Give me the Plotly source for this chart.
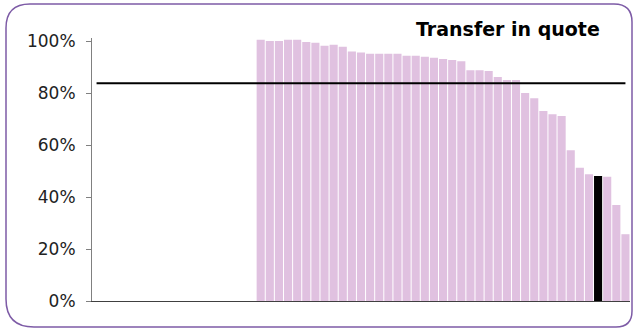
import plotly.graph_objects as go

# Share of transfers in quote, sorted descending (fraction of 1)
transfer_share = [
    1.005, 1.000, 1.000, 1.005, 1.005, 0.997, 0.994, 0.982, 0.986, 0.978,
    0.960, 0.956, 0.951, 0.951, 0.951, 0.951, 0.944, 0.944, 0.940, 0.936,
    0.931, 0.927, 0.923, 0.888, 0.888, 0.885, 0.862, 0.850, 0.850, 0.800,
    0.780, 0.731, 0.719, 0.712, 0.580, 0.513, 0.488, 0.481, 0.478, 0.369,
    0.257,
]
highlight_index = 37          # the highlighted entity
target_level = 0.838          # reference line
empty_slots = 18              # unfilled category slots before the first bar
y_ticks = [0, 0.2, 0.4, 0.6, 0.8, 1.0]
y_tick_labels = ["0%", "20%", "40%", "60%", "80%", "100%"]
title_text = "Transfer in quote"

W, H = 633, 329
ML, MR, MT, MB = 92, 3, 38, 28
PW, PH = W - ML - MR, H - MT - MB

n_slots = empty_slots + len(transfer_share)
bar_x = [empty_slots + i for i in range(len(transfer_share))]
bar_colors = ["#000000" if i == highlight_index else "#e0c1e0"
              for i in range(len(transfer_share))]

fig = go.Figure()
fig.add_trace(go.Bar(
    x=bar_x, y=transfer_share,
    marker=dict(color=bar_colors, line=dict(width=0)),
    hoverinfo="skip",
))
fig.add_trace(go.Scatter(
    x=list(range(n_slots)), y=[target_level] * n_slots,
    mode="lines", line=dict(color="#000000", width=2),
    hoverinfo="skip",
))


def px_to_paper(px, py):
    return (px - ML) / PW, (H - MB - py) / PH


def rounded_rect(x0, y0, x1, y1, r_tl, r_tr, r_br, r_bl):
    pts = []

    def p(x, y):
        a, b = px_to_paper(x, y)
        return f"{a:.5f},{b:.5f}"
    pts.append(f"M {p(x0 + r_tl, y0)}")
    pts.append(f"L {p(x1 - r_tr, y0)}")
    pts.append(f"Q {p(x1, y0)} {p(x1, y0 + r_tr)}")
    pts.append(f"L {p(x1, y1 - r_br)}")
    pts.append(f"Q {p(x1, y1)} {p(x1 - r_br, y1)}")
    pts.append(f"L {p(x0 + r_bl, y1)}")
    pts.append(f"Q {p(x0, y1)} {p(x0, y1 - r_bl)}")
    pts.append(f"L {p(x0, y0 + r_tl)}")
    pts.append(f"Q {p(x0, y0)} {p(x0 + r_tl, y0)}")
    pts.append("Z")
    return " ".join(pts)


fig.add_shape(
    type="path", xref="paper", yref="paper",
    path=rounded_rect(6, 4, 632, 327, 24, 18, 16, 28),
    line=dict(color="#7d5ba6", width=1.5),
    layer="above",
)

tx, ty = px_to_paper(602, 29)
fig.add_annotation(
    x=tx, y=ty, xref="paper", yref="paper",
    xanchor="right", yanchor="middle", showarrow=False,
    text=f"<b>{title_text}</b>",
    font=dict(family="DejaVu Sans", size=19, color="#000000"),
)

fig.update_layout(
    width=W, height=H,
    margin=dict(l=ML, r=MR, t=MT, b=MB, pad=0),
    paper_bgcolor="#ffffff", plot_bgcolor="#ffffff",
    showlegend=False, bargap=0.11,
    font=dict(family="DejaVu Sans", size=17, color="#222222"),
)
fig.update_xaxes(
    range=[-0.5, n_slots - 0.5], showticklabels=False, ticks="",
    showgrid=False, zeroline=False,
    showline=True, linecolor="#404040", linewidth=1,
)
fig.update_yaxes(
    range=[0, 1.012], tickvals=y_ticks, ticktext=y_tick_labels,
    ticks="outside", ticklen=5, tickcolor="#808080",
    ticklabelstandoff=7,
    showgrid=False, zeroline=False,
    showline=True, linecolor="#808080", linewidth=1,
)

fig.write_html("out.html")
